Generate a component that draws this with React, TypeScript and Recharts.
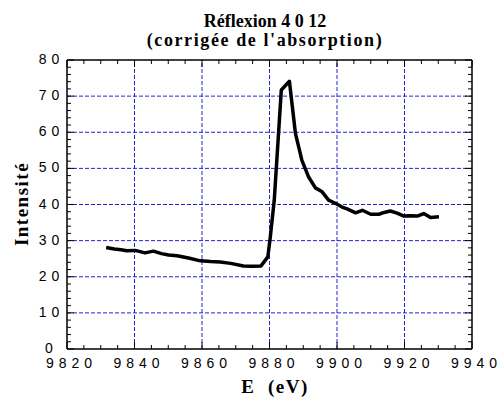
import { Line, LineChart, ReferenceLine, XAxis, YAxis } from "recharts"

// scan energies (eV) and corrected intensity
const energy = [
  9831.6, 9834, 9836, 9837.7, 9840.2, 9843.1, 9845.6, 9848, 9850.1, 9852.6,
  9856, 9859.5, 9862.5, 9865.4, 9868.5, 9872.3, 9875, 9877.5, 9879.5, 9880.2,
  9881.4, 9883.5, 9885.9, 9887.7, 9889.6, 9891.6, 9893.6, 9895.6, 9897.5, 9899.8,
  9901.5, 9903, 9905.5, 9907.5, 9910, 9912.4, 9914, 9915.8, 9917.8, 9919.8,
  9921.8, 9923.8, 9925.7, 9927.7, 9930.2,
]
const intensity = [
  28.1, 27.7, 27.5, 27.2, 27.3, 26.6, 27.1, 26.4, 26.0, 25.8,
  25.2, 24.4, 24.2, 24.1, 23.7, 23.0, 22.9, 23.0, 25.5, 30.7,
  41.1, 71.7, 74.1, 59.6, 52.2, 47.6, 44.6, 43.5, 41.2, 40.2,
  39.3, 38.8, 37.7, 38.4, 37.3, 37.3, 37.8, 38.2, 37.6, 36.8,
  36.9, 36.8, 37.5, 36.4, 36.6,
]
const xMajor = [9820, 9840, 9860, 9880, 9900, 9920, 9940]
const yMajor = [0, 10, 20, 30, 40, 50, 60, 70, 80]
const xStep = 5
const yStep = 2

const data = energy.map((e, i) => ({ e, v: intensity[i] }))

const range = (a: number[], step: number) => {
  const out: number[] = []
  for (let t = a[0]; t <= a[a.length - 1] + 1e-9; t += step) out.push(t)
  return out
}
const xTicks = range(xMajor, xStep)
const yTicks = range(yMajor, yStep)

const GRID = "#2424d0"
const tickFont = { fontFamily: "'Liberation Sans', Arial, sans-serif", fontSize: 14 }
const serifBold = {
  fontFamily: "\"Liberation Serif\", \"Times New Roman\", Tinos, \"DejaVu Serif\", serif",
  fontWeight: 700,
  color: "#000",
}

// spaced-out digits, no trailing gap
const Spaced = ({ value, gap }: { value: number, gap: number }) => (
  <>
    {String(value).split("").map((c, i) => (
      <tspan key={i} dx={i ? gap : 0}>{c}</tspan>
    ))}
  </>
)

const BottomTick = ({ x, y, payload }: any) => {
  const major = xMajor.includes(payload.value)
  return (
    <g>
      <line x1={x} x2={x} y1={y} y2={y - (major ? 7 : 4)} stroke="#000" />
      {major && (
        <text x={x + 2} y={y + 19} textAnchor="middle" fill="#000" style={tickFont}>
          <Spaced value={payload.value} gap={5} />
        </text>
      )}
    </g>
  )
}

const TopTick = ({ x, y, payload }: any) => {
  const major = xMajor.includes(payload.value)
  return <line x1={x} x2={x} y1={y} y2={y + (major ? 7 : 4)} stroke="#000" />
}

const LeftTick = ({ x, y, payload }: any) => {
  const major = yMajor.includes(payload.value)
  return (
    <g>
      <line x1={x} x2={x + (major ? 7 : 4)} y1={y} y2={y} stroke="#000" />
      {major && (
        <text x={x - 18} y={y + 4} textAnchor="middle" fill="#000" style={tickFont}>
          <Spaced value={payload.value} gap={5} />
        </text>
      )}
    </g>
  )
}

const RightTick = ({ x, y, payload }: any) => {
  const major = yMajor.includes(payload.value)
  return <line x1={x} x2={x - (major ? 7 : 4)} y1={y} y2={y} stroke="#000" />
}

export default function App() {
  return (
    <div style={{ position: "relative", width: 501, height: 403, background: "#fff" }}>
      <style>{`body{margin:0}`}</style>
      <div style={{ ...serifBold, position: "absolute", left: 0, width: 530, top: 12, textAlign: "center", fontSize: 18, lineHeight: "19px" }}>
        <div style={{ letterSpacing: 0 }}>Réflexion 4 0 12</div>
        <div style={{ letterSpacing: 1.6 }}>(corrigée de l'absorption)</div>
      </div>
      <div style={{ ...serifBold, position: "absolute", left: 0, width: 550, top: 376, textAlign: "center", fontSize: 19, letterSpacing: 1.5, whiteSpace: "pre" }}>
        E  (eV)
      </div>
      <div style={{ ...serifBold, position: "absolute", left: 22, top: 204, fontSize: 19, letterSpacing: 1.5, transform: "translate(-50%, -50%) rotate(-90deg)", whiteSpace: "nowrap" }}>
        Intensité
      </div>

      <LineChart
        width={501}
        height={403}
        data={data}
        margin={{ top: 40, right: 9, bottom: 34, left: 47 }}
        style={{ position: "absolute", left: 0, top: 0 }}
      >
        <XAxis
          dataKey="e"
          type="number"
          domain={[xMajor[0], xMajor[xMajor.length - 1]]}
          ticks={xTicks}
          interval={0}
          height={20}
          tickSize={0}
          tickMargin={0}
          tickLine={false}
          tick={BottomTick}
          axisLine={{ stroke: "#000", strokeWidth: 1.5 }}
        />
        <XAxis
          xAxisId="top"
          orientation="top"
          dataKey="e"
          type="number"
          domain={[xMajor[0], xMajor[xMajor.length - 1]]}
          ticks={xTicks}
          interval={0}
          height={20}
          tickSize={0}
          tickMargin={0}
          tickLine={false}
          tick={TopTick}
          axisLine={{ stroke: "#000", strokeWidth: 1.5 }}
        />
        <YAxis
          type="number"
          domain={[yMajor[0], yMajor[yMajor.length - 1]]}
          ticks={yTicks}
          interval={0}
          width={20}
          tickSize={0}
          tickMargin={0}
          tickLine={false}
          tick={LeftTick}
          axisLine={{ stroke: "#000", strokeWidth: 1.5 }}
        />
        <YAxis
          yAxisId="right"
          orientation="right"
          type="number"
          domain={[yMajor[0], yMajor[yMajor.length - 1]]}
          ticks={yTicks}
          interval={0}
          width={20}
          tickSize={0}
          tickMargin={0}
          tickLine={false}
          tick={RightTick}
          axisLine={{ stroke: "#000", strokeWidth: 1.5 }}
        />
        {yMajor.slice(1, -1).map((v) => (
          <ReferenceLine key={"h" + v} y={v} stroke={GRID} strokeDasharray="4 2" strokeWidth={1} />
        ))}
        {xMajor.slice(1, -1).map((v) => (
          <ReferenceLine key={"v" + v} x={v} stroke={GRID} strokeDasharray="4 2" strokeWidth={1} />
        ))}
        <Line
          xAxisId="top"
          yAxisId="right"
          dataKey="v"
          stroke="none"
          dot={false}
          activeDot={false}
          isAnimationActive={false}
        />
        <Line
          dataKey="v"
          stroke="#000"
          strokeWidth={3.5}
          dot={false}
          activeDot={false}
          strokeLinejoin="round"
          isAnimationActive={false}
        />
      </LineChart>
    </div>
  )
}
